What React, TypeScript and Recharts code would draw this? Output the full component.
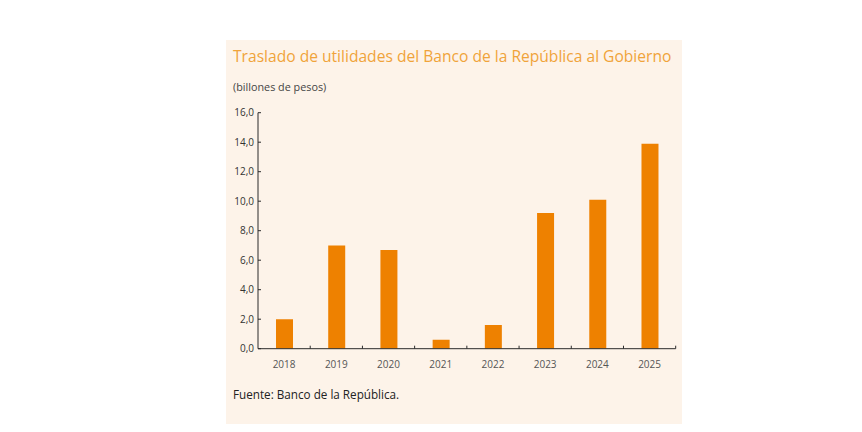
import { BarChart, Bar, XAxis, YAxis } from 'recharts'

const YEARS = ['2018', '2019', '2020', '2021', '2022', '2023', '2024', '2025']
const TRANSFERS = [2.0, 7.0, 6.7, 0.6, 1.6, 9.2, 10.1, 13.9]
const Y_TICKS = [0, 2, 4, 6, 8, 10, 12, 14, 16]

const data = YEARS.map((year, i) => ({ year, value: TRANSFERS[i] }))

const FONT = '"Open Sans", "Noto Sans", sans-serif'
const AXIS = '#2b2b2b'

// year label plus a short inward tick at the right edge of each category band
const YearTick = (props: any) => {
  const { x, y, payload } = props
  const half = payload?.offset ?? 0
  return (
    <g>
      <text x={x} y={y + 19} textAnchor="middle" fontSize={10} fill="#555" fontFamily={FONT}>
        {payload.value}
      </text>
      {half > 0 && <line x1={x + half} x2={x + half} y1={y} y2={y - 3} stroke={AXIS} strokeWidth={1} />}
    </g>
  )
}

const ValueTick = (props: any) => {
  const { x, y, payload } = props
  return (
    <g>
      <text x={x} y={y + 3.5} textAnchor="end" fontSize={10} fill="#333" fontFamily={FONT}>
        {payload.value.toFixed(1).replace('.', ',')}
      </text>
      <line x1={x + 4} x2={x + 7} y1={y} y2={y} stroke={AXIS} strokeWidth={1} />
    </g>
  )
}

export default function App() {
  return (
    <div style={{ position: 'relative', width: 862, height: 432, margin: -8, background: '#fff', overflow: 'hidden' }}>
      <div style={{ position: 'absolute', left: 226, top: 40, width: 456, height: 392, background: '#fdf3e9' }} />
      <div style={{ position: 'absolute', left: 233, top: 45, fontFamily: FONT, fontSize: 15.6, color: '#f0a33a', whiteSpace: 'nowrap' }}>
        Traslado de utilidades del Banco de la República al Gobierno
      </div>
      <div style={{ position: 'absolute', left: 233, top: 79, fontFamily: FONT, fontSize: 10.8, color: '#444', whiteSpace: 'nowrap' }}>
        (billones de pesos)
      </div>
      <div style={{ position: 'absolute', left: 233, top: 386, fontFamily: FONT, fontSize: 11.7, fontWeight: 500, color: '#222', whiteSpace: 'nowrap' }}>
        Fuente: Banco de la República.
      </div>
      <div style={{ position: 'absolute', left: 0, top: 0 }}>
        <BarChart
          width={862}
          height={432}
          data={data}
          margin={{ top: 112.7, right: 186.3, bottom: 53.3, left: 218 }}
        >
          <XAxis
            dataKey="year"
            height={30}
            tickLine={false}
            tickSize={0}
            tickMargin={0}
            axisLine={{ stroke: AXIS, strokeWidth: 1 }}
            tick={<YearTick />}
            interval={0}
          />
          <YAxis
            width={40}
            domain={[0, 16]}
            ticks={Y_TICKS}
            allowDataOverflow
            tickLine={false}
            tickSize={0}
            tickMargin={4}
            axisLine={{ stroke: AXIS, strokeWidth: 1 }}
            tick={<ValueTick />}
            interval={0}
          />
          <Bar dataKey="value" fill="#ee8100" barSize={17} isAnimationActive={false} />
        </BarChart>
      </div>
    </div>
  )
}
